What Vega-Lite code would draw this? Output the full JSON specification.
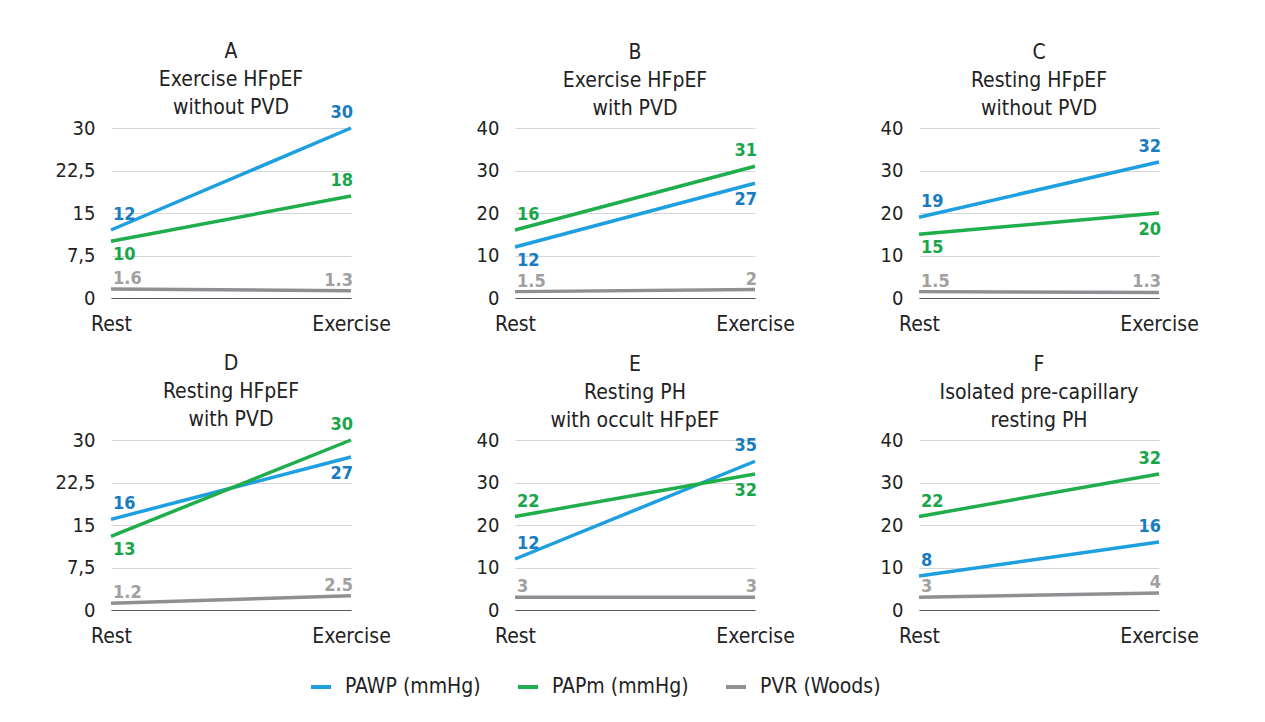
{
  "$schema": "https://vega.github.io/schema/vega-lite/v6.json",
  "padding": {"left": 54, "top": 41, "right": 10, "bottom": 10},
  "background": "white",
  "datasets": {
    "d": [
      {"panel":"A","time":"Rest","series":"PAWP (mmHg)","value":12,"side":"above"},
      {"panel":"A","time":"Rest","series":"PAPm (mmHg)","value":10,"side":"below"},
      {"panel":"A","time":"Rest","series":"PVR (Woods)","value":1.6,"side":"above"},
      {"panel":"A","time":"Exercise","series":"PAWP (mmHg)","value":30,"side":"above"},
      {"panel":"A","time":"Exercise","series":"PAPm (mmHg)","value":18,"side":"above"},
      {"panel":"A","time":"Exercise","series":"PVR (Woods)","value":1.3,"side":"above"},
      {"panel":"B","time":"Rest","series":"PAWP (mmHg)","value":12,"side":"below"},
      {"panel":"B","time":"Rest","series":"PAPm (mmHg)","value":16,"side":"above"},
      {"panel":"B","time":"Rest","series":"PVR (Woods)","value":1.5,"side":"above"},
      {"panel":"B","time":"Exercise","series":"PAWP (mmHg)","value":27,"side":"below"},
      {"panel":"B","time":"Exercise","series":"PAPm (mmHg)","value":31,"side":"above"},
      {"panel":"B","time":"Exercise","series":"PVR (Woods)","value":2,"side":"above"},
      {"panel":"C","time":"Rest","series":"PAWP (mmHg)","value":19,"side":"above"},
      {"panel":"C","time":"Rest","series":"PAPm (mmHg)","value":15,"side":"below"},
      {"panel":"C","time":"Rest","series":"PVR (Woods)","value":1.5,"side":"above"},
      {"panel":"C","time":"Exercise","series":"PAWP (mmHg)","value":32,"side":"above"},
      {"panel":"C","time":"Exercise","series":"PAPm (mmHg)","value":20,"side":"below"},
      {"panel":"C","time":"Exercise","series":"PVR (Woods)","value":1.3,"side":"above"},
      {"panel":"D","time":"Rest","series":"PAWP (mmHg)","value":16,"side":"above"},
      {"panel":"D","time":"Rest","series":"PAPm (mmHg)","value":13,"side":"below"},
      {"panel":"D","time":"Rest","series":"PVR (Woods)","value":1.2,"side":"above"},
      {"panel":"D","time":"Exercise","series":"PAWP (mmHg)","value":27,"side":"below"},
      {"panel":"D","time":"Exercise","series":"PAPm (mmHg)","value":30,"side":"above"},
      {"panel":"D","time":"Exercise","series":"PVR (Woods)","value":2.5,"side":"above"},
      {"panel":"E","time":"Rest","series":"PAWP (mmHg)","value":12,"side":"above"},
      {"panel":"E","time":"Rest","series":"PAPm (mmHg)","value":22,"side":"above"},
      {"panel":"E","time":"Rest","series":"PVR (Woods)","value":3,"side":"above"},
      {"panel":"E","time":"Exercise","series":"PAWP (mmHg)","value":35,"side":"above"},
      {"panel":"E","time":"Exercise","series":"PAPm (mmHg)","value":32,"side":"below"},
      {"panel":"E","time":"Exercise","series":"PVR (Woods)","value":3,"side":"above"},
      {"panel":"F","time":"Rest","series":"PAWP (mmHg)","value":8,"side":"above"},
      {"panel":"F","time":"Rest","series":"PAPm (mmHg)","value":22,"side":"above"},
      {"panel":"F","time":"Rest","series":"PVR (Woods)","value":3,"side":"above"},
      {"panel":"F","time":"Exercise","series":"PAWP (mmHg)","value":16,"side":"above"},
      {"panel":"F","time":"Exercise","series":"PAPm (mmHg)","value":32,"side":"above"},
      {"panel":"F","time":"Exercise","series":"PVR (Woods)","value":4,"side":"above"}
    ]
  },
  "data": {"name": "d"},
  "columns": 3,
  "bounds": "flush",
  "spacing": {"row": 142, "column": 164},
  "concat": [
    {
      "width": 240, "height": 170,
      "title": {"text": ["A", "Exercise HFpEF", "without PVD"], "offset": -14},
      "transform": [{"filter": "datum.panel == 'A'"}],
      "encoding": {
        "x": {"field": "time", "type": "ordinal", "scale": {"type": "point", "domain": ["Rest", "Exercise"], "padding": 0}},
        "y": {"field": "value", "type": "quantitative", "scale": {"domain": [0, 30], "nice": false}, "axis": {"values": [0, 7.5, 15, 22.5, 30]}}
      },
      "layer": [
        {"mark": {"type": "line", "strokeWidth": 3.5}, "encoding": {"stroke": {"field": "series", "type": "nominal", "scale": {"domain": ["PAWP (mmHg)", "PAPm (mmHg)", "PVR (Woods)"], "range": ["#1e9fdf", "#1fae4b", "#8e9093"]}, "legend": {"orient": "none", "legendX": 198, "legendY": 547, "direction": "horizontal", "title": null}}}},
        {"transform": [{"filter": "datum.time == 'Rest' && datum.side == 'above' && datum.series != 'PVR (Woods)'"}], "mark": {"type": "text", "align": "left", "dx": 2, "dy": -15}, "encoding": {"text": {"field": "value", "type": "quantitative"}, "fill": {"field": "series", "type": "nominal", "scale": {"domain": ["PAWP (mmHg)", "PAPm (mmHg)", "PVR (Woods)"], "range": ["#1a7cc0", "#19a64a", "#a0a0a0"]}, "legend": null}}},
        {"transform": [{"filter": "datum.time == 'Rest' && datum.side == 'below'"}], "mark": {"type": "text", "align": "left", "dx": 2, "dy": 14}, "encoding": {"text": {"field": "value", "type": "quantitative"}, "fill": {"field": "series", "type": "nominal", "legend": null}}},
        {"transform": [{"filter": "datum.time == 'Exercise' && datum.side == 'above' && datum.series != 'PVR (Woods)'"}], "mark": {"type": "text", "align": "right", "dx": 2, "dy": -15}, "encoding": {"text": {"field": "value", "type": "quantitative"}, "fill": {"field": "series", "type": "nominal", "legend": null}}},
        {"transform": [{"filter": "datum.time == 'Exercise' && datum.side == 'below'"}], "mark": {"type": "text", "align": "right", "dx": 2, "dy": 17}, "encoding": {"text": {"field": "value", "type": "quantitative"}, "fill": {"field": "series", "type": "nominal", "legend": null}}},
        {"transform": [{"filter": "datum.time == 'Rest' && datum.series == 'PVR (Woods)'"}], "mark": {"type": "text", "align": "left", "dx": 2, "dy": -10}, "encoding": {"text": {"field": "value", "type": "quantitative"}, "fill": {"field": "series", "type": "nominal", "legend": null}}},
        {"transform": [{"filter": "datum.time == 'Exercise' && datum.series == 'PVR (Woods)'"}], "mark": {"type": "text", "align": "right", "dx": 2, "dy": -10}, "encoding": {"text": {"field": "value", "type": "quantitative"}, "fill": {"field": "series", "type": "nominal", "legend": null}}}
      ]
    },
    {
      "width": 240, "height": 170,
      "title": {"text": ["B", "Exercise HFpEF", "with PVD"], "offset": -1},
      "transform": [{"filter": "datum.panel == 'B'"}],
      "encoding": {
        "x": {"field": "time", "type": "ordinal", "scale": {"type": "point", "domain": ["Rest", "Exercise"], "padding": 0}},
        "y": {"field": "value", "type": "quantitative", "scale": {"domain": [0, 40], "nice": false}, "axis": {"values": [0, 10, 20, 30, 40]}}
      },
      "layer": [
        {"mark": {"type": "line", "strokeWidth": 3.5}, "encoding": {"stroke": {"field": "series", "type": "nominal"}}},
        {"transform": [{"filter": "datum.time == 'Rest' && datum.side == 'above' && datum.series != 'PVR (Woods)'"}], "mark": {"type": "text", "align": "left", "dx": 2, "dy": -15}, "encoding": {"text": {"field": "value", "type": "quantitative"}, "fill": {"field": "series", "type": "nominal", "legend": null}}},
        {"transform": [{"filter": "datum.time == 'Rest' && datum.side == 'below'"}], "mark": {"type": "text", "align": "left", "dx": 2, "dy": 14}, "encoding": {"text": {"field": "value", "type": "quantitative"}, "fill": {"field": "series", "type": "nominal", "legend": null}}},
        {"transform": [{"filter": "datum.time == 'Exercise' && datum.side == 'above' && datum.series != 'PVR (Woods)'"}], "mark": {"type": "text", "align": "right", "dx": 2, "dy": -15}, "encoding": {"text": {"field": "value", "type": "quantitative"}, "fill": {"field": "series", "type": "nominal", "legend": null}}},
        {"transform": [{"filter": "datum.time == 'Exercise' && datum.side == 'below'"}], "mark": {"type": "text", "align": "right", "dx": 2, "dy": 17}, "encoding": {"text": {"field": "value", "type": "quantitative"}, "fill": {"field": "series", "type": "nominal", "legend": null}}},
        {"transform": [{"filter": "datum.time == 'Rest' && datum.series == 'PVR (Woods)'"}], "mark": {"type": "text", "align": "left", "dx": 2, "dy": -10}, "encoding": {"text": {"field": "value", "type": "quantitative"}, "fill": {"field": "series", "type": "nominal", "legend": null}}},
        {"transform": [{"filter": "datum.time == 'Exercise' && datum.series == 'PVR (Woods)'"}], "mark": {"type": "text", "align": "right", "dx": 2, "dy": -10}, "encoding": {"text": {"field": "value", "type": "quantitative"}, "fill": {"field": "series", "type": "nominal", "legend": null}}}
      ]
    },
    {
      "width": 240, "height": 170,
      "title": {"text": ["C", "Resting HFpEF", "without PVD"], "offset": -1},
      "transform": [{"filter": "datum.panel == 'C'"}],
      "encoding": {
        "x": {"field": "time", "type": "ordinal", "scale": {"type": "point", "domain": ["Rest", "Exercise"], "padding": 0}},
        "y": {"field": "value", "type": "quantitative", "scale": {"domain": [0, 40], "nice": false}, "axis": {"values": [0, 10, 20, 30, 40]}}
      },
      "layer": [
        {"mark": {"type": "line", "strokeWidth": 3.5}, "encoding": {"stroke": {"field": "series", "type": "nominal"}}},
        {"transform": [{"filter": "datum.time == 'Rest' && datum.side == 'above' && datum.series != 'PVR (Woods)'"}], "mark": {"type": "text", "align": "left", "dx": 2, "dy": -15}, "encoding": {"text": {"field": "value", "type": "quantitative"}, "fill": {"field": "series", "type": "nominal", "legend": null}}},
        {"transform": [{"filter": "datum.time == 'Rest' && datum.side == 'below'"}], "mark": {"type": "text", "align": "left", "dx": 2, "dy": 14}, "encoding": {"text": {"field": "value", "type": "quantitative"}, "fill": {"field": "series", "type": "nominal", "legend": null}}},
        {"transform": [{"filter": "datum.time == 'Exercise' && datum.side == 'above' && datum.series != 'PVR (Woods)'"}], "mark": {"type": "text", "align": "right", "dx": 2, "dy": -15}, "encoding": {"text": {"field": "value", "type": "quantitative"}, "fill": {"field": "series", "type": "nominal", "legend": null}}},
        {"transform": [{"filter": "datum.time == 'Exercise' && datum.side == 'below'"}], "mark": {"type": "text", "align": "right", "dx": 2, "dy": 17}, "encoding": {"text": {"field": "value", "type": "quantitative"}, "fill": {"field": "series", "type": "nominal", "legend": null}}},
        {"transform": [{"filter": "datum.time == 'Rest' && datum.series == 'PVR (Woods)'"}], "mark": {"type": "text", "align": "left", "dx": 2, "dy": -10}, "encoding": {"text": {"field": "value", "type": "quantitative"}, "fill": {"field": "series", "type": "nominal", "legend": null}}},
        {"transform": [{"filter": "datum.time == 'Exercise' && datum.series == 'PVR (Woods)'"}], "mark": {"type": "text", "align": "right", "dx": 2, "dy": -10}, "encoding": {"text": {"field": "value", "type": "quantitative"}, "fill": {"field": "series", "type": "nominal", "legend": null}}}
      ]
    },
    {
      "width": 240, "height": 170,
      "title": {"text": ["D", "Resting HFpEF", "with PVD"], "offset": -14},
      "transform": [{"filter": "datum.panel == 'D'"}],
      "encoding": {
        "x": {"field": "time", "type": "ordinal", "scale": {"type": "point", "domain": ["Rest", "Exercise"], "padding": 0}},
        "y": {"field": "value", "type": "quantitative", "scale": {"domain": [0, 30], "nice": false}, "axis": {"values": [0, 7.5, 15, 22.5, 30]}}
      },
      "layer": [
        {"mark": {"type": "line", "strokeWidth": 3.5}, "encoding": {"stroke": {"field": "series", "type": "nominal"}}},
        {"transform": [{"filter": "datum.time == 'Rest' && datum.side == 'above' && datum.series != 'PVR (Woods)'"}], "mark": {"type": "text", "align": "left", "dx": 2, "dy": -15}, "encoding": {"text": {"field": "value", "type": "quantitative"}, "fill": {"field": "series", "type": "nominal", "legend": null}}},
        {"transform": [{"filter": "datum.time == 'Rest' && datum.side == 'below'"}], "mark": {"type": "text", "align": "left", "dx": 2, "dy": 14}, "encoding": {"text": {"field": "value", "type": "quantitative"}, "fill": {"field": "series", "type": "nominal", "legend": null}}},
        {"transform": [{"filter": "datum.time == 'Exercise' && datum.side == 'above' && datum.series != 'PVR (Woods)'"}], "mark": {"type": "text", "align": "right", "dx": 2, "dy": -15}, "encoding": {"text": {"field": "value", "type": "quantitative"}, "fill": {"field": "series", "type": "nominal", "legend": null}}},
        {"transform": [{"filter": "datum.time == 'Exercise' && datum.side == 'below'"}], "mark": {"type": "text", "align": "right", "dx": 2, "dy": 17}, "encoding": {"text": {"field": "value", "type": "quantitative"}, "fill": {"field": "series", "type": "nominal", "legend": null}}},
        {"transform": [{"filter": "datum.time == 'Rest' && datum.series == 'PVR (Woods)'"}], "mark": {"type": "text", "align": "left", "dx": 2, "dy": -10}, "encoding": {"text": {"field": "value", "type": "quantitative"}, "fill": {"field": "series", "type": "nominal", "legend": null}}},
        {"transform": [{"filter": "datum.time == 'Exercise' && datum.series == 'PVR (Woods)'"}], "mark": {"type": "text", "align": "right", "dx": 2, "dy": -10}, "encoding": {"text": {"field": "value", "type": "quantitative"}, "fill": {"field": "series", "type": "nominal", "legend": null}}}
      ]
    },
    {
      "width": 240, "height": 170,
      "title": {"text": ["E", "Resting PH", "with occult HFpEF"], "offset": -1},
      "transform": [{"filter": "datum.panel == 'E'"}],
      "encoding": {
        "x": {"field": "time", "type": "ordinal", "scale": {"type": "point", "domain": ["Rest", "Exercise"], "padding": 0}},
        "y": {"field": "value", "type": "quantitative", "scale": {"domain": [0, 40], "nice": false}, "axis": {"values": [0, 10, 20, 30, 40]}}
      },
      "layer": [
        {"mark": {"type": "line", "strokeWidth": 3.5}, "encoding": {"stroke": {"field": "series", "type": "nominal"}}},
        {"transform": [{"filter": "datum.time == 'Rest' && datum.side == 'above' && datum.series != 'PVR (Woods)'"}], "mark": {"type": "text", "align": "left", "dx": 2, "dy": -15}, "encoding": {"text": {"field": "value", "type": "quantitative"}, "fill": {"field": "series", "type": "nominal", "legend": null}}},
        {"transform": [{"filter": "datum.time == 'Rest' && datum.side == 'below'"}], "mark": {"type": "text", "align": "left", "dx": 2, "dy": 14}, "encoding": {"text": {"field": "value", "type": "quantitative"}, "fill": {"field": "series", "type": "nominal", "legend": null}}},
        {"transform": [{"filter": "datum.time == 'Exercise' && datum.side == 'above' && datum.series != 'PVR (Woods)'"}], "mark": {"type": "text", "align": "right", "dx": 2, "dy": -15}, "encoding": {"text": {"field": "value", "type": "quantitative"}, "fill": {"field": "series", "type": "nominal", "legend": null}}},
        {"transform": [{"filter": "datum.time == 'Exercise' && datum.side == 'below'"}], "mark": {"type": "text", "align": "right", "dx": 2, "dy": 17}, "encoding": {"text": {"field": "value", "type": "quantitative"}, "fill": {"field": "series", "type": "nominal", "legend": null}}},
        {"transform": [{"filter": "datum.time == 'Rest' && datum.series == 'PVR (Woods)'"}], "mark": {"type": "text", "align": "left", "dx": 2, "dy": -10}, "encoding": {"text": {"field": "value", "type": "quantitative"}, "fill": {"field": "series", "type": "nominal", "legend": null}}},
        {"transform": [{"filter": "datum.time == 'Exercise' && datum.series == 'PVR (Woods)'"}], "mark": {"type": "text", "align": "right", "dx": 2, "dy": -10}, "encoding": {"text": {"field": "value", "type": "quantitative"}, "fill": {"field": "series", "type": "nominal", "legend": null}}}
      ]
    },
    {
      "width": 240, "height": 170,
      "title": {"text": ["F", "Isolated pre-capillary", "resting PH"], "offset": -1},
      "transform": [{"filter": "datum.panel == 'F'"}],
      "encoding": {
        "x": {"field": "time", "type": "ordinal", "scale": {"type": "point", "domain": ["Rest", "Exercise"], "padding": 0}},
        "y": {"field": "value", "type": "quantitative", "scale": {"domain": [0, 40], "nice": false}, "axis": {"values": [0, 10, 20, 30, 40]}}
      },
      "layer": [
        {"mark": {"type": "line", "strokeWidth": 3.5}, "encoding": {"stroke": {"field": "series", "type": "nominal"}}},
        {"transform": [{"filter": "datum.time == 'Rest' && datum.side == 'above' && datum.series != 'PVR (Woods)'"}], "mark": {"type": "text", "align": "left", "dx": 2, "dy": -15}, "encoding": {"text": {"field": "value", "type": "quantitative"}, "fill": {"field": "series", "type": "nominal", "legend": null}}},
        {"transform": [{"filter": "datum.time == 'Rest' && datum.side == 'below'"}], "mark": {"type": "text", "align": "left", "dx": 2, "dy": 14}, "encoding": {"text": {"field": "value", "type": "quantitative"}, "fill": {"field": "series", "type": "nominal", "legend": null}}},
        {"transform": [{"filter": "datum.time == 'Exercise' && datum.side == 'above' && datum.series != 'PVR (Woods)'"}], "mark": {"type": "text", "align": "right", "dx": 2, "dy": -15}, "encoding": {"text": {"field": "value", "type": "quantitative"}, "fill": {"field": "series", "type": "nominal", "legend": null}}},
        {"transform": [{"filter": "datum.time == 'Exercise' && datum.side == 'below'"}], "mark": {"type": "text", "align": "right", "dx": 2, "dy": 17}, "encoding": {"text": {"field": "value", "type": "quantitative"}, "fill": {"field": "series", "type": "nominal", "legend": null}}},
        {"transform": [{"filter": "datum.time == 'Rest' && datum.series == 'PVR (Woods)'"}], "mark": {"type": "text", "align": "left", "dx": 2, "dy": -10}, "encoding": {"text": {"field": "value", "type": "quantitative"}, "fill": {"field": "series", "type": "nominal", "legend": null}}},
        {"transform": [{"filter": "datum.time == 'Exercise' && datum.series == 'PVR (Woods)'"}], "mark": {"type": "text", "align": "right", "dx": 2, "dy": -10}, "encoding": {"text": {"field": "value", "type": "quantitative"}, "fill": {"field": "series", "type": "nominal", "legend": null}}}
      ]
    }
  ],
  "config": {
    "font": "DejaVu Sans Condensed, Roboto, sans-serif",
    "view": {"stroke": null},
    "text": {"fontSize": 18, "fontWeight": "bold", "baseline": "middle"},
    "title": {"fontSize": 21, "fontWeight": "normal", "color": "#222222", "lineHeight": 28, "frame": "group", "anchor": "middle"},
    "axisX": {"labelAngle": 0, "labelFontSize": 21, "labelColor": "#222222", "ticks": false, "domainColor": "#555555", "domainWidth": 1.2, "title": null, "labelPadding": 15, "grid": false},
    "axisY": {"labelFontSize": 20, "labelColor": "#222222", "ticks": false, "domain": false, "gridColor": "#d6d6d6", "labelPadding": 16, "title": null, "labelExpr": "replace(format(datum.value, '~g'), '.', ',')"},
    "legend": {"labelFontSize": 21, "labelColor": "#222222", "symbolType": "stroke", "symbolStrokeWidth": 4, "symbolSize": 400, "columnPadding": 29, "labelOffset": 12}
  }
}
